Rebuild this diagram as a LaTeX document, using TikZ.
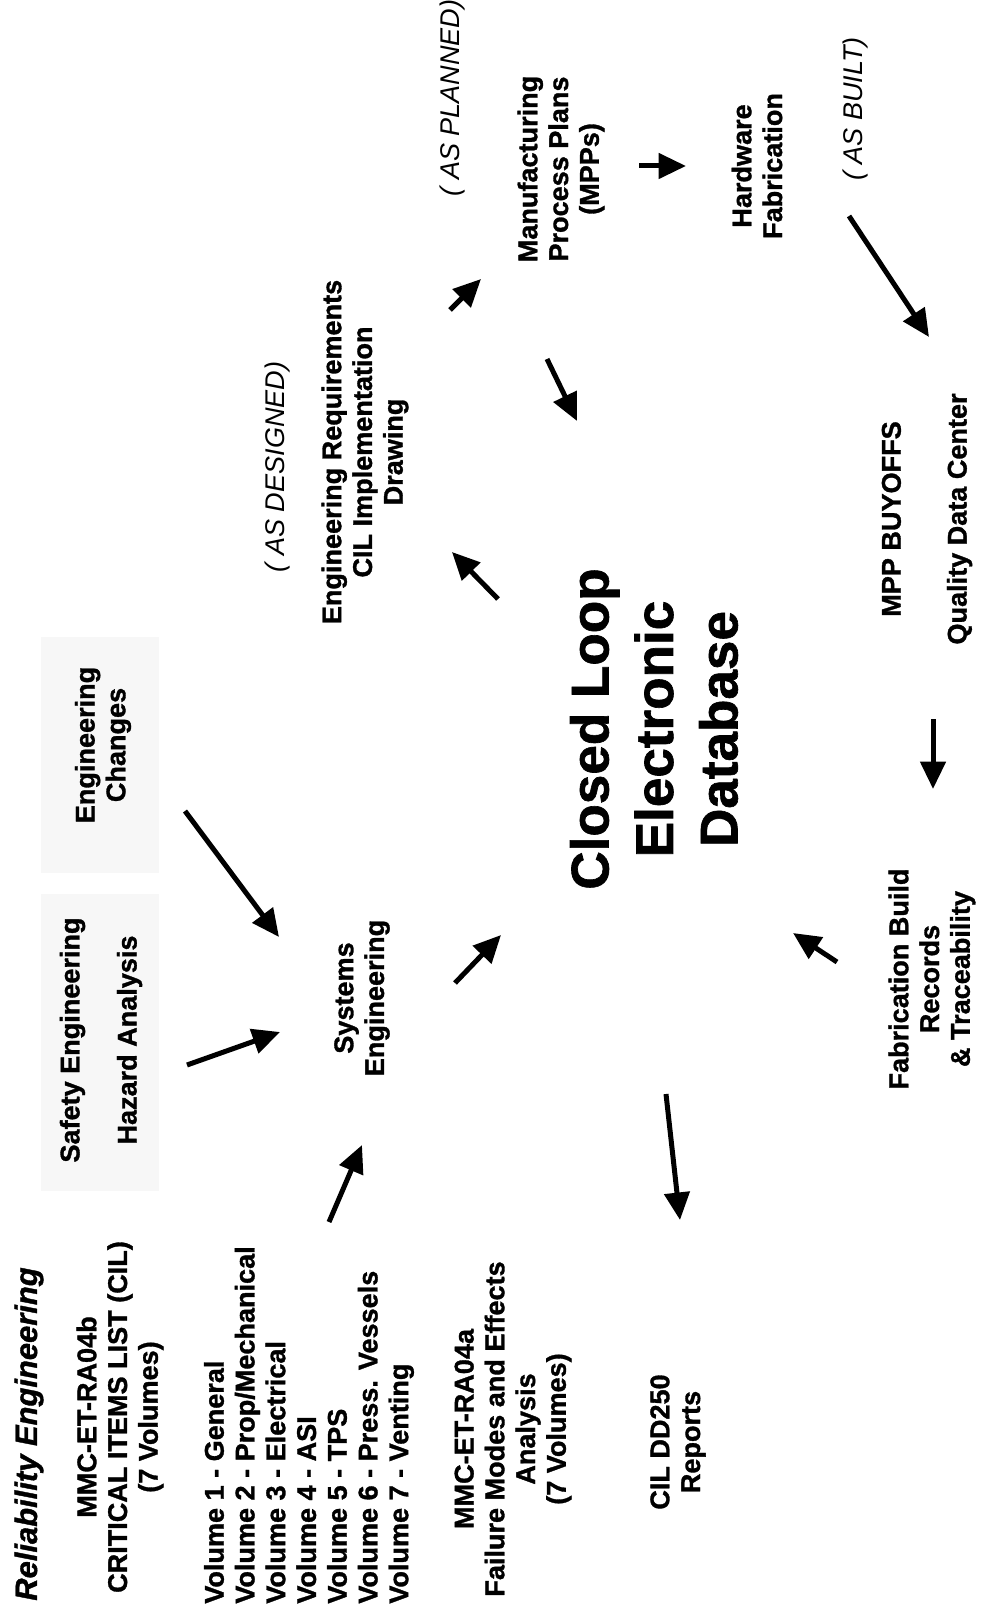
\documentclass[tikz,border=0pt]{standalone}
\usepackage{fontspec}
\setmainfont{Liberation Sans}[BoldFeatures={FakeBold=1.2},BoldItalicFeatures={FakeBold=1.2}]
\usetikzlibrary{arrows.meta}

\begin{document}
\begin{tikzpicture}[x=0.02cm,y=-0.02cm,
    lbl/.style={rotate=90,inner sep=0pt,align=center,font=\fontsize{15.4}{17.5}\selectfont\bfseries},
    asnote/.style={rotate=90,inner sep=0pt,font=\fontsize{15.4}{17.5}\selectfont\itshape},
    arr/.style={line width=0.1cm,-{Triangle[length=0.55cm,width=0.5cm]}},
    shadebox/.style={fill=black!3,draw=none}]
    \useasboundingbox (0,0) rectangle (985,1611);
    \fill[shadebox] (41,637) rectangle (159,873);
    \fill[shadebox] (41,894) rectangle (159,1191);

    \node[lbl,font=\fontsize{17.6}{20}\selectfont\bfseries\itshape] (rel) at (29,1434) {Reliability Engineering};
    \node[lbl] (cil) at (120,1417) {MMC-ET-RA04b\\CRITICAL ITEMS LIST (CIL)\\(7 Volumes)};
    \node[lbl,align=left,anchor=west] (vol) at (309,1604) {Volume 1 - General\\Volume 2 - Prop/Mechanical\\Volume 3 - Electrical\\Volume 4 - ASI\\Volume 5 - TPS\\Volume 6 - Press. Vessels\\Volume 7 - Venting};
    \node[lbl] (fmea) at (513,1429) {MMC-ET-RA04a\\Failure Modes and Effects\\Analysis\\(7 Volumes)};
    \node[lbl] (dd) at (678,1442) {CIL DD250\\Reports};
    \node[lbl] (safety) at (101,1040) {Safety Engineering\\[15pt]Hazard Analysis};
    \node[lbl] (chg) at (103,745) {Engineering\\Changes};
    \node[lbl] (sys) at (362,998) {Systems\\Engineering};
    \node[lbl,font=\fontsize{30.2}{36.7}\selectfont\bfseries] (db) at (654,729) {Closed Loop\\Electronic\\Database};
    \node[lbl] (req) at (365,452) {Engineering Requirements\\CIL Implementation\\Drawing};
    \node[asnote] (asdes) at (277,467) {( AS DESIGNED)};
    \node[asnote] (asplan) at (452,98) {( AS PLANNED)};
    \node[lbl] (mpp) at (561,169) {Manufacturing\\Process Plans\\(MPPs)};
    \node[lbl] (hw) at (757,166) {Hardware\\Fabrication};
    \node[asnote] (asbuilt) at (855,109) {( AS BUILT)};
    \node[lbl] (buy) at (927,519) {MPP BUYOFFS\\[20pt]Quality Data Center};
    \node[lbl] (fab) at (932,979) {Fabrication Build\\Records\\\& Traceability};

    \coordinate (chg-o) at (185,811);   \coordinate (sys-i1) at (279,937);
    \coordinate (safety-o) at (187,1065); \coordinate (sys-i2) at (280,1032);
    \coordinate (vol-o) at (329,1222);  \coordinate (sys-i3) at (362,1145);
    \coordinate (sys-o) at (455,983);   \coordinate (db-i1) at (501,935);
    \coordinate (db-o1) at (666,1094);  \coordinate (dd-i) at (680,1220);
    \coordinate (db-o2) at (498,599);   \coordinate (req-i) at (452,552);
    \coordinate (req-o) at (450,310);   \coordinate (mpp-i) at (481,279);
    \coordinate (mpp-o1) at (547,359);  \coordinate (db-i2) at (577,421);
    \coordinate (mpp-o2) at (639,166);  \coordinate (hw-i) at (686,166);
    \coordinate (hw-o) at (849,216);    \coordinate (buy-i) at (929,337);
    \coordinate (buy-o) at (933,719);   \coordinate (fab-i) at (933,789);
    \coordinate (fab-o) at (837,962);   \coordinate (db-i3) at (793,933);

    \draw[arr] (chg-o) -- (sys-i1);
    \draw[arr] (safety-o) -- (sys-i2);
    \draw[arr] (vol-o) -- (sys-i3);
    \draw[arr] (sys-o) -- (db-i1);
    \draw[arr] (db-o1) -- (dd-i);
    \draw[arr] (db-o2) -- (req-i);
    \draw[arr] (req-o) -- (mpp-i);
    \draw[arr] (mpp-o1) -- (db-i2);
    \draw[arr] (mpp-o2) -- (hw-i);
    \draw[arr] (hw-o) -- (buy-i);
    \draw[arr] (buy-o) -- (fab-i);
    \draw[arr] (fab-o) -- (db-i3);
\end{tikzpicture}
\end{document}
